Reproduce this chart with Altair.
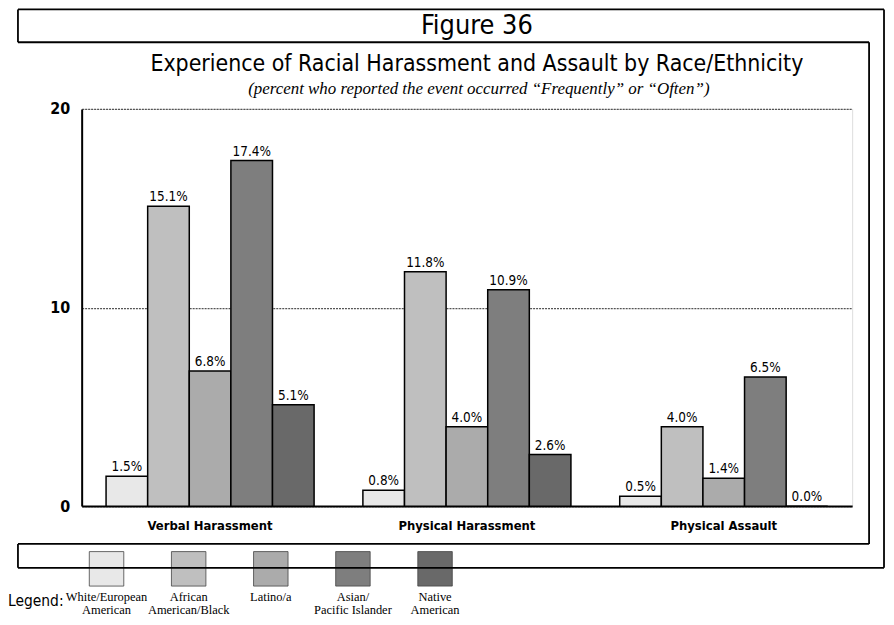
import altair as alt
import pandas as pd

groups = ["Verbal Harassment", "Physical Harassment", "Physical Assault"]
races = ["White/European American", "African American/Black", "Latino/a",
         "Asian/Pacific Islander", "Native American"]
legend_labels = ["White/European\nAmerican", "African\nAmerican/Black", "Latino/a",
                 "Asian/\nPacific Islander", "Native\nAmerican"]
verbal = [1.5, 15.1, 6.8, 17.4, 5.1]
physical_harassment = [0.8, 11.8, 4.0, 10.9, 2.6]
physical_assault = [0.5, 4.0, 1.4, 6.5, 0.0]
y_ticks = [0, 10, 20]
colors = ["#e8e8e8", "#bfbfbf", "#ababab", "#7e7e7e", "#696969"]

fig_label = "Figure 36"
title_text = "Experience of Racial Harassment and Assault by Race/Ethnicity"
subtitle_text = "(percent who reported the event occurred \u201cFrequently\u201d or \u201cOften\u201d)"

rows = []
for g, vals in zip(groups, [verbal, physical_harassment, physical_assault]):
    for r, v in zip(races, vals):
        rows.append({"group": g, "race": r, "value": v, "label": f"{v:.1f}%"})
df = pd.DataFrame(rows)
leg = pd.DataFrame({"race": races, "text": legend_labels})
one = pd.DataFrame({"frame": [1]})

SANS = "DejaVu Sans Condensed"
SERIF = "Liberation Serif"

color = alt.Color("race:N", scale=alt.Scale(domain=races, range=colors), legend=None)

x = alt.X("group:N", sort=groups, title=None,
          scale=alt.Scale(paddingInner=0.19, paddingOuter=0.095),
          axis=alt.Axis(labelFont=SANS, labelFontWeight="bold", labelFontSize=13,
                        labelColor="black", labelAngle=0, labelPadding=13, ticks=False,
                        domainColor="black", domainWidth=2))
xo = alt.XOffset("race:N", sort=races, scale=alt.Scale(paddingInner=0, paddingOuter=0))
y = alt.Y("value:Q", title=None, scale=alt.Scale(domain=[0, 20], nice=False),
          axis=alt.Axis(values=y_ticks, labelFont=SANS, labelFontWeight="bold",
                        labelFontSize=16, labelColor="black", labelPadding=12, ticks=False,
                        domainColor="black", domainWidth=2, grid=True,
                        gridColor="#555555", gridDash=[2, 1], gridWidth=1.3))

bars = alt.Chart(df).mark_bar(stroke="black", strokeWidth=1.5).encode(
    x=x, xOffset=xo, y=y, color=color)
labels = alt.Chart(df).mark_text(baseline="alphabetic", dy=-5, font=SANS, fontSize=13.5,
                                 color="black").encode(x=x, xOffset=xo, y=y, text="label:N")
main = alt.layer(bars, labels)

lx = alt.X("race:N", sort=races, scale=alt.Scale(type="point", range=[25, 355], padding=0),
           axis=None)
swatch = alt.Chart(leg).mark_square(size=1200, opacity=1, stroke="#444",
                                    strokeWidth=0.8).encode(x=lx, y=alt.value(462), color=color)
leg_text = alt.Chart(leg).mark_text(lineBreak="\n", baseline="top", font=SERIF, fontSize=12.5,
                                    lineHeight=13.5, color="black").encode(
    x=lx, y=alt.value(484), text="text:N")
legend_layer = alt.layer(swatch, leg_text)


def hrule(x1, x2, yy, w=1.8):
    return alt.Chart(one).mark_rule(color="black", strokeWidth=w).encode(
        x=alt.value(x1), x2=alt.value(x2), y=alt.value(yy))


def vrule(xx, y1, y2, w=1.8):
    return alt.Chart(one).mark_rule(color="black", strokeWidth=w).encode(
        x=alt.value(xx), y=alt.value(y1), y2=alt.value(y2))


frame = [
    hrule(-64, 806, -100), vrule(806, -100, 461), hrule(-64, 806, 461),
    vrule(-64, -100, -67), hrule(-64, 791, -67), vrule(791, -67, 437),
    hrule(-64, 791, 437), vrule(-64, 437, 461),
]


def note(text, xx, yy, font, size, align="center", style="normal"):
    return alt.Chart(one).mark_text(text=text, font=font, fontSize=size, color="black",
                                    align=align, baseline="alphabetic",
                                    fontStyle=style).encode(x=alt.value(xx), y=alt.value(yy))


texts = [
    note(fig_label, 397, -75, SANS, 27),
    note(title_text, 397, -38, SANS, 23),
    note(subtitle_text, 399, -15, SERIF, 17, style="italic"),
    note("Legend:", -74, 499, SANS, 15.5, align="left"),
]

chart = alt.layer(main, legend_layer, *texts, *frame).resolve_scale(
    x="independent"
).properties(
    width=774, height=399,
    autosize=alt.AutoSizeParams(type="none"),
    padding={"left": 74, "top": 100, "right": 34, "bottom": 112},
).configure_view(stroke=None).configure(background="white")

chart.save("out.html", embed_options={"renderer": "svg", "actions": False})
